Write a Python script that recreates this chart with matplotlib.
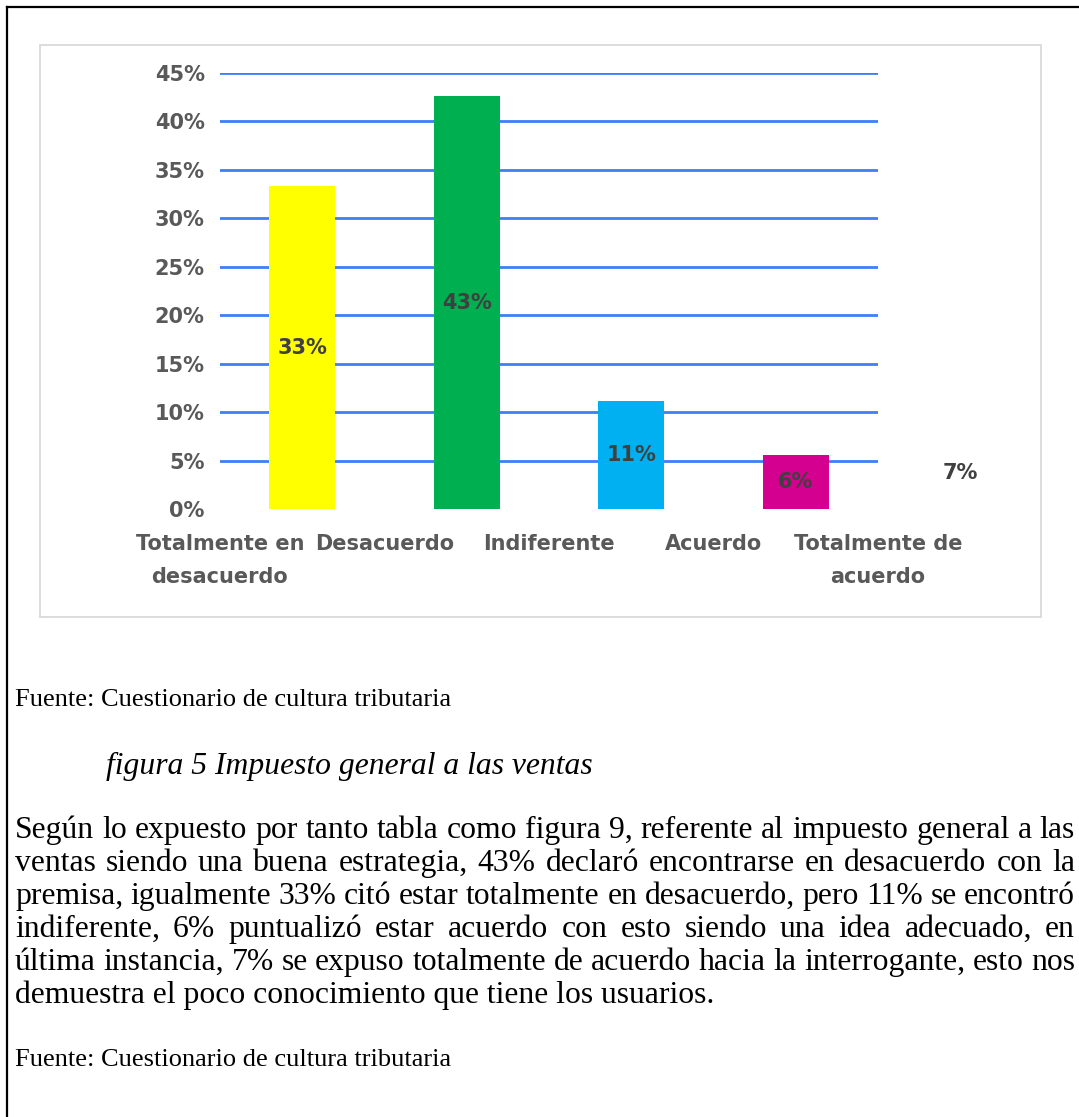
import matplotlib
matplotlib.use("Agg")
import matplotlib.pyplot as plt
from matplotlib.patches import Rectangle
from matplotlib.lines import Line2D
import numpy as np

# ---------------- data ----------------
categories = ["Totalmente en\ndesacuerdo", "Desacuerdo", "Indiferente", "Acuerdo", "Totalmente de\nacuerdo"]
values = [33.3, 42.6, 11.1, 5.6, 7.4]
value_labels = ["33%", "43%", "11%", "6%", "7%"]
bar_colors = ["#FFFF00", "#00B050", "#00B0F0", "#D4008F", "none"]
yticks = [0, 5, 10, 15, 20, 25, 30, 35, 40, 45]
ytick_labels = ["0%", "5%", "10%", "15%", "20%", "25%", "30%", "35%", "40%", "45%"]

source_text = "Fuente: Cuestionario de cultura tributaria"
caption_text = "figura 5 Impuesto general a las ventas"
paragraph_lines = [
    "Según lo expuesto por tanto tabla como figura 9, referente al impuesto general a las",
    "ventas siendo una buena estrategia, 43% declaró encontrarse en desacuerdo con la",
    "premisa, igualmente 33% citó estar totalmente en desacuerdo, pero 11% se encontró",
    "indiferente, 6% puntualizó estar acuerdo con esto siendo una idea adecuado, en",
    "última instancia, 7% se expuso totalmente de acuerdo hacia la interrogante, esto nos",
    "demuestra el poco conocimiento que tiene los usuarios.",
]

# ---------------- figure ----------------
W, H = 1079, 1117
fig = plt.figure(figsize=(W / 100, H / 100), dpi=100)
fig.patch.set_facecolor("white")


def fx(x):
    return x / W


def fy(y):
    return 1 - y / H


# page border (black, left + top)
fig.add_artist(Line2D([fx(7), fx(7)], [fy(7), 0], color="black", lw=1.6, transform=fig.transFigure))
fig.add_artist(Line2D([fx(7), 1], [fy(7), fy(7)], color="black", lw=1.6, transform=fig.transFigure))

# chart frame (light gray)
fig.add_artist(Rectangle((fx(40), fy(617)), (1041 - 40) / W, (617 - 45) / H, fill=False,
                         edgecolor="#D9D9D9", lw=1.3, transform=fig.transFigure))

# ---------------- chart ----------------
ax = fig.add_axes([fx(220), fy(509), (878 - 220) / W, (509 - 73) / H])
x = np.arange(len(categories))
ax.bar(x, values, width=0.4, color=bar_colors, zorder=3, clip_on=False, linewidth=0)
ax.set_xlim(-0.5, 3.5)
ax.set_ylim(0, 45)

chart_font = "DejaVu Sans"
fs = 15.0
ax.set_yticks(yticks)
ax.set_yticklabels(ytick_labels, fontsize=fs, fontweight="bold", color="#595959", family=chart_font)
ax.tick_params(axis="y", length=0, pad=11)
ax.yaxis.grid(True, color="#3D7FF5", lw=2.0, zorder=1)
ax.get_ygridlines()[0].set_visible(False)
ax.set_axisbelow(True)

ax.set_xticks(x - 0.5)
ax.set_xticklabels(categories, fontsize=fs, fontweight="bold", color="#595959", family=chart_font,
                   linespacing=1.8)
ax.tick_params(axis="x", length=0, pad=18)
for s in ax.spines.values():
    s.set_visible(False)

for xi, v, lab in zip(x, values, value_labels):
    ax.text(xi, v / 2, lab, ha="center", va="center", fontsize=fs, fontweight="bold",
            color="#404040", family=chart_font, clip_on=False, zorder=4)

# ---------------- document text ----------------
serif = "Liberation Serif"
r = fig.canvas.get_renderer()


def text_width(s, size, style="normal"):
    t = fig.text(0, 0, s, fontsize=size, family=serif, style=style)
    w = t.get_window_extent(r).width
    t.remove()
    return w


left, right = 15, 1075
target = right - left
w20 = text_width(paragraph_lines[0], 20)
P = 20 * (target - 4) / w20
small = P * 10 / 12

fig.text(fx(left), fy(706), source_text, fontsize=small, family=serif, va="baseline", color="black")
fig.text(fx(106), fy(774), caption_text, fontsize=P, family=serif, style="italic", va="baseline", color="black")

baseline0, step = 838, 33.0
for i, line in enumerate(paragraph_lines):
    yb = baseline0 + i * step
    if i == len(paragraph_lines) - 1:
        fig.text(fx(left), fy(yb), line, fontsize=P, family=serif, va="baseline", color="black")
        continue
    words = line.split(" ")
    size = P
    widths = [text_width(w, size) for w in words]
    gap = (target - sum(widths)) / (len(words) - 1)
    min_gap = 0.12 * size * 100 / 72
    if gap < min_gap:
        size = size * (target - min_gap * (len(words) - 1)) / sum(widths)
        widths = [text_width(w, size) for w in words]
        gap = (target - sum(widths)) / (len(words) - 1)
    xpos = left
    for w, wd in zip(words, widths):
        fig.text(fx(xpos), fy(yb), w, fontsize=size, family=serif, va="baseline", color="black")
        xpos += wd + gap

fig.text(fx(left), fy(1066), source_text, fontsize=small, family=serif, va="baseline", color="black")

fig.savefig("out.png", dpi=100, facecolor="white")
